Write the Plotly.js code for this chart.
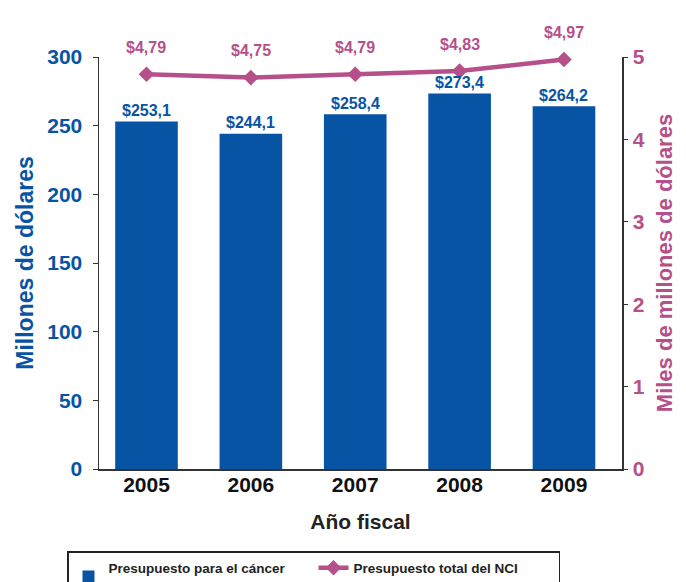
<!DOCTYPE html>
<html><head><meta charset="utf-8">
<script src="https://cdn.plot.ly/plotly-3.0.1.min.js"></script>
<style>html,body{margin:0;padding:0;background:#fff}#c{width:686px;height:582px}</style>
</head><body><div id="c"></div>
<script>
var years = ['2005','2006','2007','2008','2009'];
var colorectal = [253.1, 244.1, 258.4, 273.4, 264.2];
var nciTotal = [4.79, 4.75, 4.79, 4.83, 4.97];
var barLabels = ['$253,1','$244,1','$258,4','$273,4','$264,2'];
var lineLabels = ['$4,79','$4,75','$4,79','$4,83','$4,97'];
var barName = 'Presupuesto para el cáncer<br>colorrectal';
var lineName = 'Presupuesto total del NCI';

var BLUE = '#0854a4', MAG = '#b6508a', AX = '#333333';
var FF = 'Liberation Sans, Arial, Helvetica, sans-serif';

var data = [
  {type:'bar', x:years, y:colorectal, name:barName, marker:{color:BLUE}, width:0.6},
  {type:'scatter', mode:'lines+markers', x:years, y:nciTotal, yaxis:'y2', name:lineName,
   line:{color:MAG, width:4.5}, marker:{symbol:'diamond', size:12, color:MAG}, cliponaxis:false}
];

var annotations = [];
years.forEach(function(yr, i){
  annotations.push({x:i, y:colorectal[i], xref:'x', yref:'y', text:barLabels[i], showarrow:false,
    yanchor:'middle', yshift:11, font:{family:FF, size:16, color:BLUE, weight:'bold'}});
  annotations.push({x:i, y:nciTotal[i], xref:'x', yref:'y2', text:lineLabels[i], showarrow:false,
    yanchor:'middle', yshift:27, font:{family:FF, size:16, color:MAG, weight:'bold'}});
});

var layout = {
  width:686, height:582,
  margin:{l:99, r:64, t:57, b:113},
  paper_bgcolor:'#fff', plot_bgcolor:'#fff',
  font:{family:FF, weight:'bold'},
  showlegend:true,
  annotations:annotations,
  xaxis:{type:'category', range:[-0.455,4.556], showline:true, linecolor:AX, linewidth:1.5, ticks:'',
    ticklabelstandoff:-4,
    tickfont:{family:FF, size:21, color:'#111', weight:'bold'},
    title:{text:'Año fiscal', font:{family:FF, size:21, color:'#222', weight:'bold'}, standoff:19}},
  yaxis:{range:[0,300], dtick:50, showgrid:false, zeroline:false, showline:true, linecolor:AX, linewidth:1.5,
    ticks:'outside', ticklen:5, tickcolor:AX, ticklabelstandoff:6,
    tickfont:{family:FF, size:21, color:BLUE, weight:'bold'},
    title:{text:'Millones de dólares', font:{family:FF, size:23, color:BLUE, weight:'bold'}, standoff:7}},
  yaxis2:{range:[0,5], dtick:1, overlaying:'y', side:'right', showgrid:false, zeroline:false,
    showline:true, linecolor:AX, linewidth:1.5, ticks:'outside', ticklen:4, tickcolor:AX, ticklabelstandoff:1,
    tickfont:{family:FF, size:21, color:MAG, weight:'bold'},
    title:{text:'Miles de millones de dólares', font:{family:FF, size:22, color:MAG, weight:'bold'}, standoff:13}},
  legend:{orientation:'h', xref:'container', yref:'container', x:67/686, y:1-551/582,
    xanchor:'left', yanchor:'top', bordercolor:'#222', borderwidth:1.5, bgcolor:'#fff',
    font:{family:FF, size:13.5, color:'#222', weight:'bold'}, entrywidth:200, itemwidth:30,
    traceorder:'normal'},
  bargap:0.4
};
Plotly.newPlot('c', data, layout, {displayModeBar:false, staticPlot:true});
</script></body></html>
